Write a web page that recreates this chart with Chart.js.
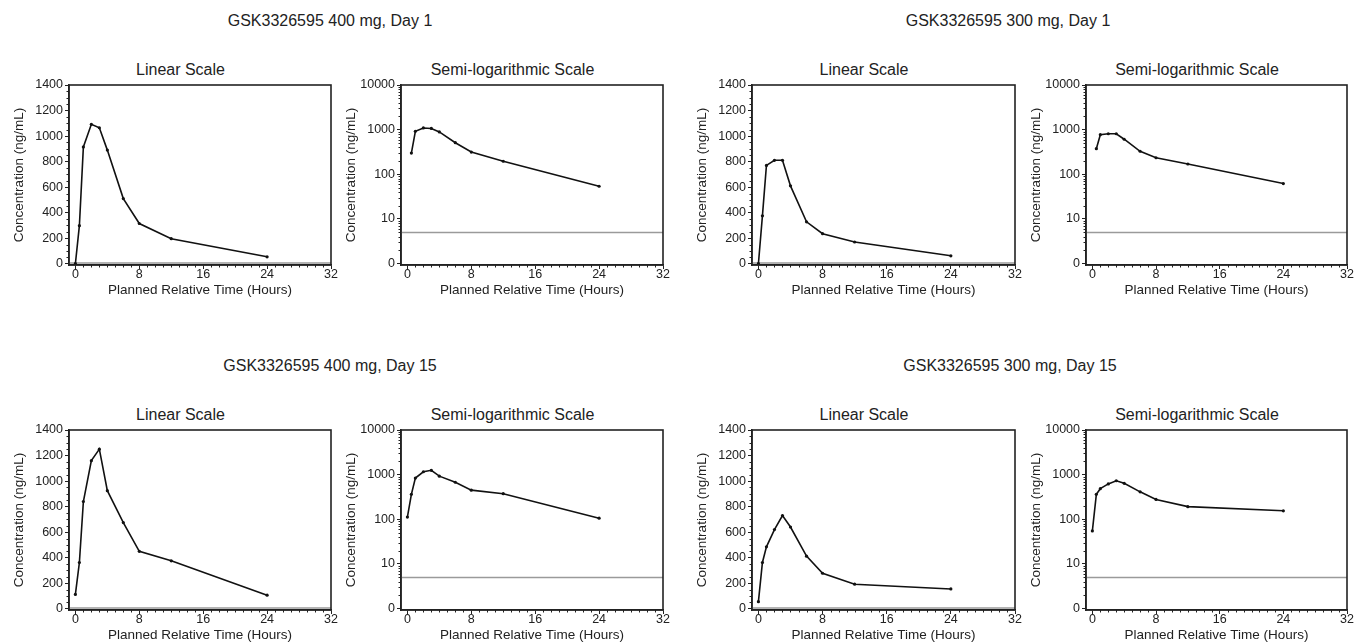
<!DOCTYPE html>
<html><head><meta charset="utf-8">
<script src="https://cdn.jsdelivr.net/npm/chart.js@4.4.1/dist/chart.umd.min.js"></script>
<style>
body{margin:0;background:#fff;width:1355px;height:644px;position:relative;overflow:hidden;font-family:"Liberation Sans",Arial,sans-serif;color:#222}
.t{position:absolute;white-space:nowrap;transform:translate(-50%,-50%);line-height:1}
canvas{position:absolute}
</style></head><body>
<script>
// ---------- data ----------
const times = [0, 0.5, 1, 2, 3, 4, 6, 8, 12, 24];
const conc400Day1  = [0, 298, 915, 1092, 1065, 890, 510, 315, 196, 54];
const conc300Day1  = [0, 375, 770, 810, 810, 610, 328, 235, 170, 62];
const conc400Day15 = [112, 362, 840, 1160, 1250, 925, 675, 450, 375, 106];
const conc300Day15 = [55, 362, 485, 620, 730, 640, 412, 278, 192, 155];
const groupTitles = ["GSK3326595 400 mg, Day 1", "GSK3326595 300 mg, Day 1", "GSK3326595 400 mg, Day 15", "GSK3326595 300 mg, Day 15"];
const linearTicks = [0, 200, 400, 600, 800, 1000, 1200, 1400];
const logTicks = [1, 10, 100, 1000, 10000];
const logTickLabels = ["0", "10", "100", "1000", "10000"];
const xTicks = [0, 8, 16, 24, 32];
const lloq = 5;
const yTitle = "Concentration (ng/mL)";
const xTitle = "Planned Relative Time (Hours)";

// ---------- layout ----------
const FONT = '"Liberation Sans", Arial, sans-serif';
const INK = '#222';
const groups = [
  {data: conc400Day1,  title: groupTitles[0], cx: 330,  top: 85,  lin: [69, 331],   log: [401, 663]},
  {data: conc300Day1,  title: groupTitles[1], cx: 1008, top: 85,  lin: [752, 1015], log: [1086, 1347]},
  {data: conc400Day15, title: groupTitles[2], cx: 330,  top: 430, lin: [69, 331],   log: [401, 663]},
  {data: conc300Day15, title: groupTitles[3], cx: 1010, top: 430, lin: [752, 1015], log: [1086, 1347]}
];
const PLOT_H = 180, WY = 65, PAD_T = 12, PAD_R = 14, HX = 36;

function addText(txt, x, y, size) {
  const d = document.createElement('div');
  d.className = 't'; d.textContent = txt;
  d.style.left = x + 'px'; d.style.top = y + 'px'; d.style.fontSize = size + 'px';
  document.body.appendChild(d);
}

const framePlugin = {
  id: 'frame',
  afterDraw(chart) {
    const {ctx, chartArea: a, scales: {x, y}} = chart;
    ctx.save();
    ctx.strokeStyle = INK; ctx.lineWidth = 1;
    ctx.beginPath();
    for (let h = 1; h < 32; h++) {
      if (h % 8 === 0) continue;
      const px = Math.round(x.getPixelForValue(h)) + 0.5;
      ctx.moveTo(px, a.bottom); ctx.lineTo(px, a.bottom + 2.5);
    }
    const minors = [];
    if (y.type === 'logarithmic') {
      [1, 10, 100, 1000].forEach(d => { for (let k = 2; k <= 9; k++) minors.push(d * k); });
    } else {
      for (let v = 50; v < 1400; v += 50) if (v % 200) minors.push(v);
    }
    minors.forEach(v => {
      const py = Math.round(y.getPixelForValue(v)) + 0.5;
      ctx.moveTo(a.left - 2.5, py); ctx.lineTo(a.left, py);
    });
    ctx.stroke();
    ctx.lineWidth = 1.6;
    ctx.strokeRect(a.left, a.top, a.right - a.left, a.bottom - a.top);
    ctx.restore();
  }
};

function makeChart(vals, left, right, top, isLog) {
  const c = document.createElement('canvas');
  const W = WY + (right - left) + PAD_R, H = PAD_T + PLOT_H + HX;
  c.width = W; c.height = H;
  c.style.left = (left - WY) + 'px'; c.style.top = (top - PAD_T) + 'px';
  c.style.width = W + 'px'; c.style.height = H + 'px';
  document.body.appendChild(c);
  const pts = times.map((t, i) => ({x: t, y: (isLog && vals[i] <= 0) ? null : vals[i]}));
  new Chart(c, {
    type: 'line',
    data: {datasets: [
      {data: pts, borderColor: '#111', borderWidth: 1.6, pointRadius: 1.6, pointBackgroundColor: '#111', pointBorderWidth: 0, tension: 0, spanGaps: false},
      {data: [{x: -0.8, y: lloq}, {x: 32, y: lloq}], borderColor: '#9a9a9a', borderWidth: 1.5, pointRadius: 0}
    ]},
    options: {
      responsive: false, animation: false, devicePixelRatio: 1,
      layout: {padding: {top: PAD_T, right: PAD_R, left: 0, bottom: 0}},
      plugins: {legend: {display: false}, tooltip: {enabled: false}},
      scales: {
        x: {
          type: 'linear', min: -0.8, max: 32,
          afterBuildTicks: s => { s.ticks = xTicks.map(v => ({value: v})); },
          afterFit: s => { s.height = HX; },
          grid: {drawOnChartArea: false, tickLength: 4, color: INK, lineWidth: 1},
          border: {color: INK, width: 1.6},
          ticks: {font: {size: 12.5, family: FONT}, color: INK, padding: -2, maxRotation: 0, autoSkip: false},
          title: {display: true, text: xTitle, font: {size: 13.5, family: FONT}, color: INK, padding: {top: 0, bottom: 3}}
        },
        y: {
          type: isLog ? 'logarithmic' : 'linear',
          min: isLog ? 0.93 : -10, max: isLog ? 10000 : 1400,
          afterBuildTicks: s => { s.ticks = (isLog ? logTicks : linearTicks).map(v => ({value: v})); },
          afterFit: s => { s.width = WY; },
          grid: {drawOnChartArea: false, tickLength: 4, color: INK, lineWidth: 1},
          border: {color: INK, width: 1.6},
          ticks: {font: {size: 12.5, family: FONT}, color: INK, padding: 2, autoSkip: false,
            callback: (v, i) => isLog ? logTickLabels[i] : String(linearTicks[i])},
          title: {display: true, text: yTitle, font: {size: 13.5, family: FONT}, color: INK, padding: {top: 7, bottom: 0}}
        }
      }
    },
    plugins: [framePlugin]
  });
}

groups.forEach(g => {
  addText(g.title, g.cx, g.top - 64, 16);
  addText('Linear Scale', (g.lin[0] + g.lin[1]) / 2 - 19.5, g.top - 15, 16);
  addText('Semi-logarithmic Scale', (g.log[0] + g.log[1]) / 2 - 19.5, g.top - 15, 16);
  makeChart(g.data, g.lin[0], g.lin[1], g.top, false);
  makeChart(g.data, g.log[0], g.log[1], g.top, true);
});
</script>
</body></html>
